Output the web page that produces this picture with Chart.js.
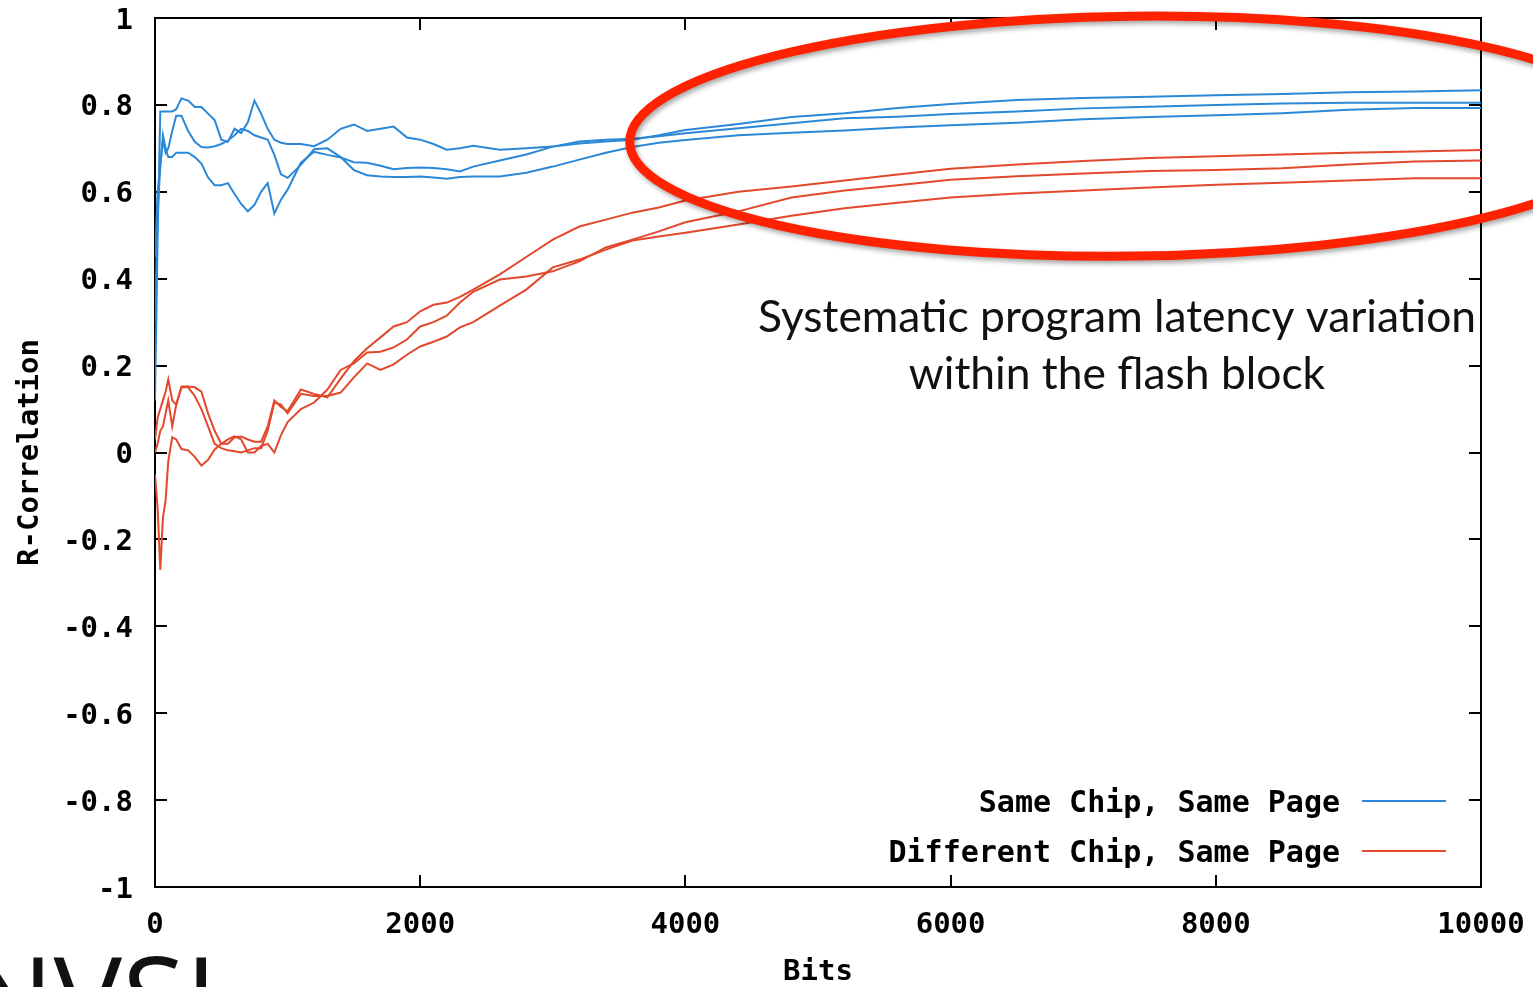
<!DOCTYPE html>
<html lang="en">
<head>
<meta charset="UTF-8">
<title>R-Correlation vs Bits</title>
<style>
    body {
        margin: 0;
        background-color: #fff;
    }
    #chartcc {
        position: relative;
        width: 1533px;
        height: 987px;
    }
</style>
</head>
<body>
<div id="chartcc">
    <canvas id="corr-chart"></canvas>
</div>
<script src="https://cdn.jsdelivr.net/npm/chart.js"></script>
<script>
// x positions (bits) shared by every trace
const bits = [0, 20, 40, 60, 80, 100, 130, 160, 200, 250, 300, 350, 400, 450, 500, 550, 600, 650, 700, 750,
    800, 850, 900, 950, 1000, 1100, 1200, 1300, 1400, 1500, 1600, 1700, 1800, 1900, 2000, 2100, 2200, 2300, 2400,
    2600, 2800, 3000, 3200, 3400, 3600, 3800, 4000, 4400, 4800, 5200, 5600, 6000, 6500, 7000, 7500, 8000, 8500,
    9000, 9500, 10000];

// Same Chip, Same Page (blue)
const sameChipA = [0.12, 0.50, 0.785, 0.785, 0.785, 0.785, 0.785, 0.79, 0.815, 0.81, 0.795, 0.795, 0.78, 0.765, 0.72, 0.715, 0.745, 0.735, 0.76, 0.81,
    0.78, 0.745, 0.72, 0.713, 0.71, 0.71, 0.705, 0.72, 0.745, 0.755, 0.74, 0.745, 0.75, 0.725, 0.72, 0.71, 0.697, 0.70, 0.706,
    0.697, 0.70, 0.704, 0.716, 0.72, 0.722, 0.728, 0.735, 0.746, 0.758, 0.769, 0.773, 0.779, 0.785, 0.792, 0.796, 0.80, 0.803,
    0.805, 0.805, 0.805];
const sameChipB = [0.45, 0.60, 0.66, 0.73, 0.70, 0.68, 0.68, 0.69, 0.69, 0.69, 0.68, 0.665, 0.633, 0.615, 0.615, 0.62, 0.595, 0.572, 0.555, 0.57,
    0.60, 0.62, 0.55, 0.582, 0.605, 0.667, 0.692, 0.685, 0.679, 0.668, 0.667, 0.66, 0.652, 0.655, 0.656, 0.655, 0.652, 0.647, 0.658,
    0.672, 0.686, 0.704, 0.711, 0.716, 0.72, 0.73, 0.742, 0.756, 0.772, 0.781, 0.793, 0.802, 0.811, 0.816, 0.819, 0.822, 0.825,
    0.829, 0.831, 0.834];
const sameChipC = [0.30, 0.55, 0.66, 0.72, 0.69, 0.70, 0.74, 0.775, 0.775, 0.74, 0.715, 0.703, 0.702, 0.705, 0.71, 0.718, 0.73, 0.745, 0.74, 0.73,
    0.725, 0.72, 0.685, 0.64, 0.632, 0.662, 0.698, 0.70, 0.68, 0.65, 0.638, 0.635, 0.634, 0.634, 0.635, 0.633, 0.63, 0.634, 0.635,
    0.635, 0.644, 0.658, 0.674, 0.69, 0.703, 0.713, 0.719, 0.73, 0.736, 0.741, 0.748, 0.753, 0.759, 0.767, 0.772, 0.776, 0.781,
    0.789, 0.793, 0.793];

// Different Chip, Same Page (red)
const diffChipA = [0.03, 0.08, 0.10, 0.12, 0.14, 0.168, 0.12, 0.11, 0.152, 0.152, 0.15, 0.14, 0.09, 0.05, 0.02, 0.02, 0.035, 0.037, 0.03, 0.025,
    0.025, 0.06, 0.12, 0.105, 0.095, 0.145, 0.135, 0.127, 0.17, 0.21, 0.24, 0.265, 0.29, 0.30, 0.325, 0.34, 0.345, 0.358, 0.375,
    0.41, 0.45, 0.49, 0.52, 0.536, 0.552, 0.564, 0.58, 0.60, 0.612, 0.626, 0.64, 0.653, 0.663, 0.671, 0.678, 0.682, 0.686,
    0.69, 0.693, 0.696];
const diffChipB = [-0.05, -0.13, -0.27, -0.15, -0.11, -0.02, 0.035, 0.03, 0.008, 0.005, -0.01, -0.03, -0.017, 0.007, 0.02, 0.03, 0.037, 0.03, 0.0, 0.0,
    0.015, 0.02, 0.0, 0.04, 0.07, 0.10, 0.115, 0.145, 0.19, 0.205, 0.23, 0.232, 0.242, 0.26, 0.29, 0.30, 0.315, 0.345, 0.37,
    0.398, 0.405, 0.417, 0.44, 0.472, 0.49, 0.509, 0.53, 0.555, 0.587, 0.603, 0.615, 0.628, 0.636, 0.642, 0.648, 0.65, 0.654,
    0.663, 0.67, 0.672];
const diffChipC = [0.0, 0.02, 0.05, 0.06, 0.09, 0.12, 0.06, 0.11, 0.15, 0.15, 0.13, 0.10, 0.06, 0.02, 0.01, 0.005, 0.003, 0.0, 0.005, 0.01,
    0.01, 0.05, 0.115, 0.11, 0.09, 0.135, 0.13, 0.13, 0.138, 0.173, 0.205, 0.19, 0.203, 0.225, 0.244, 0.255, 0.267, 0.288, 0.30,
    0.338, 0.375, 0.426, 0.444, 0.467, 0.488, 0.497, 0.506, 0.525, 0.545, 0.562, 0.575, 0.587, 0.596, 0.603, 0.61, 0.616, 0.621,
    0.626, 0.631, 0.631];

const legendLabels = ['Same Chip, Same Page', 'Different Chip, Same Page'];
const noteLines = ['Systematic program latency variation', 'within the flash block'];

const BLUE = '#2b88d8';
const RED = '#e2482c';
const MONO = 'DejaVu Sans Mono';

function trace(values, color, legendIdx) {
    return {
        data: bits.map((b, i) => ({ x: b, y: values[i] })),
        borderColor: color,
        borderWidth: 2,
        pointRadius: 0,
        tension: 0,
        fill: false,
        legendIdx: legendIdx
    };
}

// frame, inward ticks on all sides, legend and the slide annotations
const chartDecor = {
    id: 'chartDecor',
    beforeDatasetsDraw(chart) {
        const { ctx, chartArea: a, scales: { x, y } } = chart;
        ctx.save();
        ctx.strokeStyle = '#000';
        ctx.lineWidth = 2;
        ctx.strokeRect(a.left, a.top, a.right - a.left, a.bottom - a.top);
        ctx.beginPath();
        x.ticks.forEach(t => {
            const px = Math.round(x.getPixelForValue(t.value));
            ctx.moveTo(px, a.bottom); ctx.lineTo(px, a.bottom - 12);
            ctx.moveTo(px, a.top); ctx.lineTo(px, a.top + 12);
        });
        y.ticks.forEach(t => {
            const py = Math.round(y.getPixelForValue(t.value));
            ctx.moveTo(a.left, py); ctx.lineTo(a.left + 12, py);
            ctx.moveTo(a.right, py); ctx.lineTo(a.right - 12, py);
        });
        ctx.stroke();
        ctx.restore();
    },
    afterDraw(chart) {
        const { ctx, chartArea: a, scales: { x, y } } = chart;
        ctx.save();

        // legend, gnuplot style: text then sample line, bottom right
        ctx.font = 'bold 30px ' + MONO;
        ctx.textAlign = 'right';
        ctx.textBaseline = 'middle';
        chart.data.datasets.forEach(ds => {
            if (ds.legendIdx === undefined) return;
            const ly = a.bottom - 86 + ds.legendIdx * 50;
            ctx.fillStyle = '#000';
            ctx.fillText(legendLabels[ds.legendIdx], a.right - 141, ly + 3);
            ctx.strokeStyle = ds.borderColor;
            ctx.lineWidth = 2;
            ctx.beginPath();
            ctx.moveTo(a.right - 119, ly);
            ctx.lineTo(a.right - 35, ly);
            ctx.stroke();
        });

        // hand-drawn style ellipse round the converged tails
        const cx = x.getPixelForValue(7370);
        const cy = y.getPixelForValue(0.728);
        const rx = x.getPixelForValue(7370 + 3790) - cx;
        const ry = y.getPixelForValue(0.728 - 0.276) - cy;
        ctx.shadowColor = 'rgba(0,0,0,0.35)';
        ctx.shadowBlur = 5;
        ctx.shadowOffsetX = 2;
        ctx.shadowOffsetY = 3;
        ctx.strokeStyle = '#ff2200';
        ctx.lineWidth = 9;
        ctx.beginPath();
        ctx.ellipse(cx, cy, rx, ry, -0.012, 0, Math.PI * 2);
        ctx.stroke();
        ctx.shadowColor = 'transparent';

        // annotation text
        ctx.font = '40px Lato';
        const fit = 40 * 718 / ctx.measureText(noteLines[0]).width;
        ctx.font = fit.toFixed(1) + 'px Lato';
        ctx.fillStyle = '#111';
        ctx.textAlign = 'center';
        ctx.textBaseline = 'alphabetic';
        const tx = x.getPixelForValue(7255);
        ctx.fillText(noteLines[0], tx, y.getPixelForValue(0.278));
        ctx.fillText(noteLines[1], tx, y.getPixelForValue(0.147));

        // slide logo, cut off by the bottom edge
        ctx.font = '115px "Open Sans"';
        ctx.textAlign = 'left';
        ctx.fillStyle = '#111';
        ctx.fillText('NVSL', -33, 1040);
        ctx.restore();
    }
};

const ctx = document.getElementById('corr-chart').getContext('2d');
const corrChart = new Chart(ctx, {
    type: 'line',
    data: {
        datasets: [
            trace(sameChipA, BLUE, 0),
            trace(sameChipB, BLUE),
            trace(sameChipC, BLUE),
            trace(diffChipA, RED, 1),
            trace(diffChipB, RED),
            trace(diffChipC, RED)
        ]
    },
    options: {
        responsive: true,
        maintainAspectRatio: false,
        animation: false,
        devicePixelRatio: 1,
        layout: { padding: { top: 18, right: 52, left: 0, bottom: 0 } },
        plugins: {
            legend: { display: false },
            tooltip: { enabled: false }
        },
        scales: {
            x: {
                type: 'linear',
                min: 0,
                max: 10000,
                grid: { display: false, drawTicks: false },
                border: { display: false },
                ticks: {
                    stepSize: 2000,
                    maxRotation: 0,
                    autoSkip: false,
                    padding: 21,
                    color: '#000',
                    font: { family: MONO, weight: 'bold', size: 29 },
                    callback: v => String(v)
                },
                title: {
                    display: true,
                    text: 'Bits',
                    color: '#000',
                    padding: { top: 0, bottom: -3 },
                    font: { family: MONO, weight: 'bold', size: 29 }
                },
                afterFit(scale) {
                    scale.height = 100;
                    scale.paddingLeft = 0;
                    scale.paddingRight = 0;
                }
            },
            y: {
                min: -1,
                max: 1,
                grid: { display: false, drawTicks: false },
                border: { display: false },
                ticks: {
                    stepSize: 0.2,
                    padding: 22,
                    labelOffset: 3,
                    color: '#000',
                    font: { family: MONO, weight: 'bold', size: 29 },
                    callback: v => String(Number(v.toFixed(1)))
                },
                title: {
                    display: true,
                    text: 'R-Correlation',
                    color: '#000',
                    padding: { top: 13, bottom: 0 },
                    font: { family: MONO, weight: 'bold', size: 29 }
                },
                afterFit(scale) {
                    scale.width = 155;
                    scale.paddingTop = 0;
                    scale.paddingBottom = 0;
                }
            }
        }
    },
    plugins: [chartDecor]
});
</script>
</body>
</html>
